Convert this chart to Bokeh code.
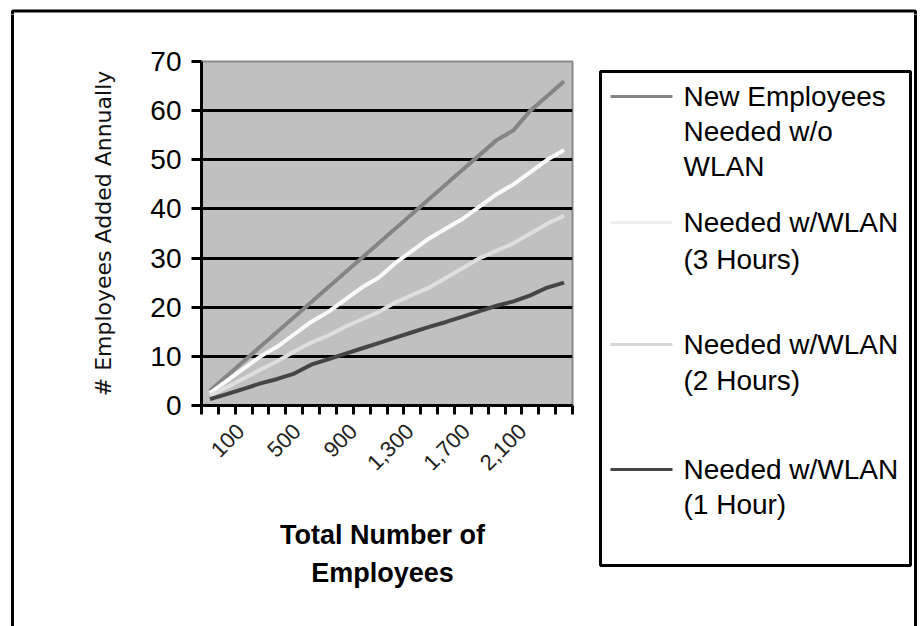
import math
from bokeh.plotting import figure
from bokeh.layouts import column, row
from bokeh.models import Range1d, LinearAxis, FixedTicker, NumeralTickFormatter
from bokeh.core.properties import value
from bokeh.embed import file_html
from bokeh.resources import INLINE

# ---------------- data ----------------
employees = [100, 200, 300, 400, 500, 600, 700, 800, 900, 1000, 1100,
             1200, 1300, 1400, 1500, 1600, 1700, 1800, 1900, 2000, 2100, 2200]
needed_without_wlan = [3, 6, 9, 12, 15, 18, 21, 24, 27, 30, 33,
                       36, 39, 42, 45, 48, 51, 54, 56, 60, 63, 66]
needed_wlan_3h = [2.5, 5, 7.5, 10, 12, 14.5, 17, 19, 21.5, 24, 26,
                  29, 31.5, 34, 36, 38, 40.5, 43, 45, 47.5, 50, 52]
needed_wlan_2h = [2, 3.7, 5.5, 7.3, 9, 11, 12.8, 14.2, 16, 17.5, 19,
                  21, 22.5, 24, 26, 28, 30, 31.5, 33, 35, 37, 38.6]
needed_wlan_1h = [1.3, 2.3, 3.4, 4.5, 5.4, 6.5, 8.3, 9.4, 10.5, 11.6, 12.7,
                  13.8, 14.9, 16, 17, 18.1, 19.2, 20.3, 21.2, 22.4, 24, 25]
x_label_ticks = [100, 500, 900, 1300, 1700, 2100]
y_ticks = [0, 10, 20, 30, 40, 50, 60, 70]
grid_ticks = [10, 20, 30, 40, 50, 60]
legend_lines = [
    ["New Employees", "Needed w/o", "WLAN"],
    ["Needed w/WLAN", "(3 Hours)"],
    ["Needed w/WLAN", "(2 Hours)"],
    ["Needed w/WLAN", "(1 Hour)"],
]
x_title = ["Total Number of", "Employees"]
y_title = "# Employees Added Annually"

# ---------------- layout / styling ----------------
W, H = 923, 626
TOP_H = 14          # strip holding the top edge of the outer frame
LEFT_W = 14         # strip holding the left edge of the outer frame
P_W = 576           # chart column width
LG_W = W - LEFT_W - P_W
BODY_H = H - TOP_H
P_BOTTOM = 492      # page y where the chart figure ends and the x-title strip starts
FL, FR, FT, FB = 201, 572, 61, 405   # chart frame edges (page px)

line_styles = [("#858585", 4), ("#FAFAFA", 4), ("#DEDEDE", 4), ("#454545", 4)]
legend_colors = ["#858585", "#EFEFEF", "#D8D8D8", "#454545"]
legend_rows_y = [[96, 131, 166], [222, 259], [344, 380], [469, 504]]
x_title_y = [534, 572]


def no_align(f):
    try:
        f.frame_align = False
    except Exception:
        pass
    return f


def blank(w, h):
    f = figure(width=w, height=h, output_backend="svg", toolbar_location=None,
               x_range=Range1d(0, w), y_range=Range1d(h, 0),
               x_axis_location=None, y_axis_location=None, min_border=0)
    f.grid.visible = False
    f.outline_line_color = None
    f.background_fill_color = "white"
    f.border_fill_color = "white"
    return no_align(f)


# top strip: top edge of the outer frame
top = blank(W, TOP_H)
top.quad(left=[12], right=[915], top=[10.5], bottom=[TOP_H + 5],
         fill_color=None, line_color="black", line_width=3)

# left strip: left edge of the outer frame
left = blank(LEFT_W, BODY_H)
left.segment(x0=[12], y0=[-5], x1=[12], y1=[BODY_H + 5], line_color="black", line_width=3)

# ---------------- main chart ----------------
half = (employees[1] - employees[0]) / 2
boundaries = [e - half for e in employees] + [employees[-1] + half]

p = figure(width=P_W, height=P_BOTTOM - TOP_H, output_backend="svg", toolbar_location=None,
           x_range=Range1d(boundaries[0], boundaries[-1]), y_range=Range1d(0, 70),
           min_border_left=FL - LEFT_W, min_border_right=LEFT_W + P_W - FR,
           min_border_top=FT - TOP_H, min_border_bottom=P_BOTTOM - FB)
no_align(p)
p.extra_x_ranges = {"lbl": Range1d(-177, 2454)}

p.background_fill_color = "#C0C0C0"
p.border_fill_color = "white"
p.outline_line_color = "#8A8A8A"
p.outline_line_width = 2

p.xgrid.visible = False
p.ygrid.ticker = FixedTicker(ticks=grid_ticks)
p.ygrid.grid_line_color = "black"
p.ygrid.grid_line_width = 3

ya = p.yaxis[0]
ya.ticker = FixedTicker(ticks=y_ticks)
ya.axis_line_color = "black"
ya.axis_line_width = 3
ya.major_tick_line_color = "black"
ya.major_tick_line_width = 3
ya.major_tick_out = 10
ya.major_tick_in = 0
ya.minor_tick_line_color = None
ya.major_label_text_font = "Liberation Sans"
ya.major_label_text_font_size = "28px"
ya.major_label_text_color = "black"
ya.major_label_standoff = 10
ya.axis_label = y_title
ya.axis_label_text_font = "DejaVu Sans"
ya.axis_label_text_font_size = "22px"
ya.axis_label_text_font_style = "normal"
ya.axis_label_text_color = "#111111"
ya.axis_label_standoff = 31

# category-boundary tick marks (no labels)
xa = p.xaxis[0]
xa.ticker = FixedTicker(ticks=[], minor_ticks=boundaries)
xa.axis_line_color = "black"
xa.axis_line_width = 3
xa.major_tick_line_color = None
xa.minor_tick_line_color = "black"
xa.minor_tick_line_width = 3
xa.minor_tick_out = 9
xa.minor_tick_in = 0
xa.major_label_standoff = 0

xl = LinearAxis(x_range_name="lbl", ticker=FixedTicker(ticks=x_label_ticks),
                formatter=NumeralTickFormatter(format="0,0"))
xl.major_label_orientation = math.pi / 4
xl.axis_line_color = None
xl.major_tick_line_color = None
xl.minor_tick_line_color = None
xl.major_tick_out = 0
xl.major_tick_in = 0
xl.major_label_standoff = 13
xl.major_label_text_font = "Liberation Sans"
xl.major_label_text_font_size = "22px"
xl.major_label_text_color = "#222222"
p.add_layout(xl, "below")

for vals, (col, lw) in zip([needed_without_wlan, needed_wlan_3h, needed_wlan_2h, needed_wlan_1h],
                           line_styles):
    p.line(employees, vals, line_color=col, line_width=lw, line_join="round")

# x-axis title strip
xt = blank(P_W, H - P_BOTTOM)
xt.text(x=[382 - LEFT_W] * len(x_title), y=[yy - P_BOTTOM for yy in x_title_y], text=x_title,
        text_align="center", text_baseline="middle",
        text_font=value("Liberation Sans"), text_font_size=value("27px"),
        text_font_style="bold", text_color="black")

# ---------------- legend panel ----------------
X0 = LEFT_W + P_W     # page x of legend panel's left edge
lg = blank(LG_W, BODY_H)
lg.segment(x0=[915 - X0], y0=[-5], x1=[915 - X0], y1=[BODY_H + 5],
           line_color="black", line_width=3)
lg.quad(left=[600 - X0], right=[910 - X0], top=[71 - TOP_H], bottom=[565 - TOP_H],
        fill_color="white", line_color="black", line_width=3)
seg_x0, seg_x1, seg_y = [], [], []
txt_x, txt_y, txt = [], [], []
for lines, ys in zip(legend_lines, legend_rows_y):
    seg_x0.append(610 - X0)
    seg_x1.append(672 - X0)
    seg_y.append(ys[0] - TOP_H)
    for t, yy in zip(lines, ys):
        txt_x.append(683 - X0)
        txt_y.append(yy - TOP_H)
        txt.append(t)
lg.segment(x0=seg_x0, y0=seg_y, x1=seg_x1, y1=seg_y, line_color=legend_colors, line_width=3)
lg.text(x=txt_x, y=txt_y, text=txt, text_align="left", text_baseline="middle",
        text_font=value("Liberation Sans"), text_font_size=value("28px"),
        text_color="black")

layout = column(top, row(left, column(p, xt, spacing=0), lg, spacing=0), spacing=0)
open("out.html", "w").write(file_html(layout, INLINE))
